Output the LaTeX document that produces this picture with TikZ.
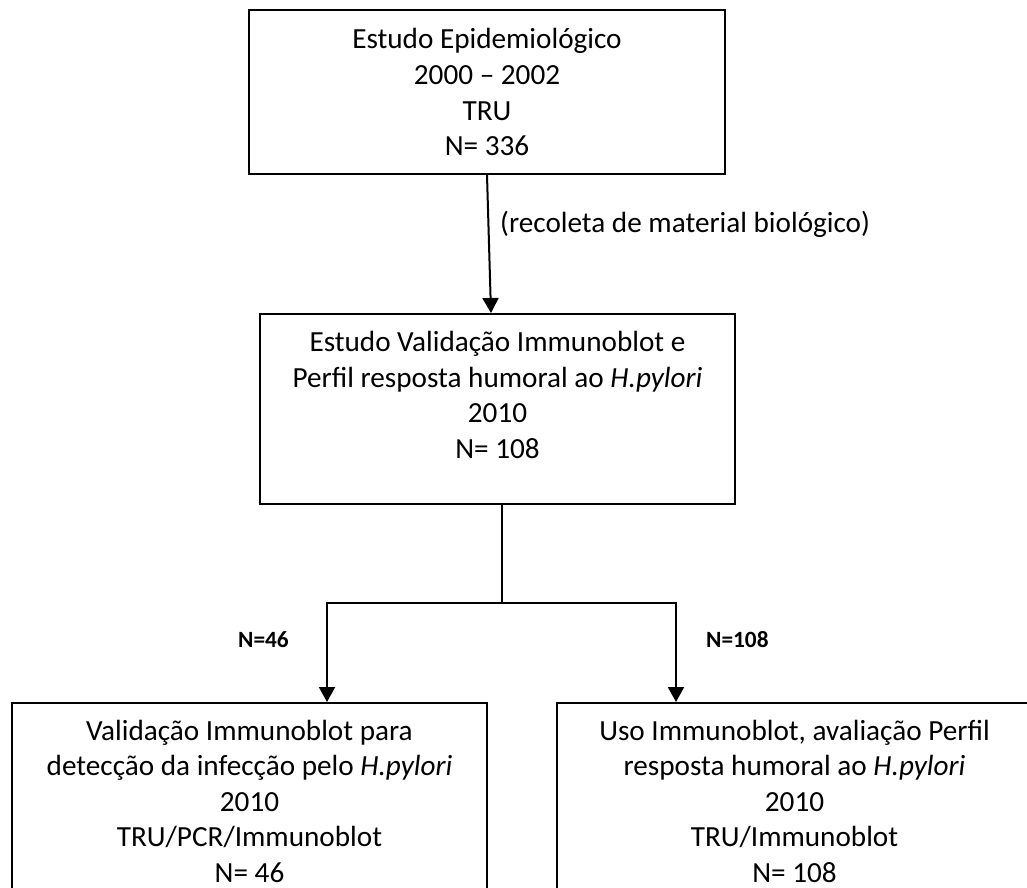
\documentclass[tikz,border=0pt]{standalone}
\usepackage{fontspec}
\setmainfont{Carlito}
\usetikzlibrary{arrows.meta}
\tikzset{
  box/.style={draw=black, line width=2pt, rectangle, inner sep=0pt, minimum width=#1, fill=none},
  boxtext/.style={anchor=base, align=center, inner sep=0pt, font=\fontsize{29.2}{35.6}\selectfont},
  lbl/.style={inner sep=0pt, font=\fontsize{29.2}{35.6}\selectfont},
  nlbl/.style={inner sep=0pt, anchor=base west, font=\fontsize{23.3}{28}\selectfont\bfseries},
  conn/.style={line width=2pt, line join=miter},
  arr/.style={conn, -{Triangle[width=16pt,length=15pt]}}
}
\begin{document}
\begin{tikzpicture}[x=1pt,y=1pt]
\useasboundingbox (0,0) rectangle (1027,-887);
\fill[white] (0,0) rectangle (1027,-887);
\clip (0,0) rectangle (1027,-887);
% boxes
\node[box=476pt, minimum height=164pt] (top) at (487,-92) {};
\node[box=475pt, minimum height=190pt] (mid) at (497.5,-409) {};
\node[box=475pt, minimum height=300pt] (bl) at (249.5,-853) {};
\node[box=475pt, minimum height=300pt] (br) at (794.5,-853) {};
% texts (anchor base = baseline of the last line)
\node[boxtext] (toptext) at (487,-155.7) {Estudo Epidemiológico\\2000 – 2002\\TRU\\N= 336};
\node[boxtext] (midtext) at (497.5,-458.5) {Estudo Validação Immunoblot e\\Perfil resposta humoral ao \textit{H.pylori}\\2010\\N= 108};
\node[boxtext] (bltext) at (249.5,-882.4) {Validação Immunoblot para\\detecção da infecção pelo \textit{H.pylori}\\2010\\TRU/PCR/Immunoblot\\N= 46};
\node[boxtext] (brtext) at (794.5,-882.4) {Uso Immunoblot, avaliação Perfil\\resposta humoral ao \textit{H.pylori}\\2010\\TRU/Immunoblot\\N= 108};
% connectors
\draw[arr] (top.south) -- ([xshift=-6.5pt]mid.north);
\node[lbl, anchor=base west] (rec) at (500,-232) {(recoleta de material biológico)};
\coordinate (split) at (502,-603);
\draw[conn] ([xshift=4.5pt]mid.south) -- (split);
\draw[arr] (split) -| ([xshift=77.5pt]bl.north);
\draw[arr] (split) -| ([xshift=-118.5pt]br.north);
\node[nlbl] (n46) at (238,-647) {N=46};
\node[nlbl] (n108) at (706,-647) {N=108};
\end{tikzpicture}
\end{document}
